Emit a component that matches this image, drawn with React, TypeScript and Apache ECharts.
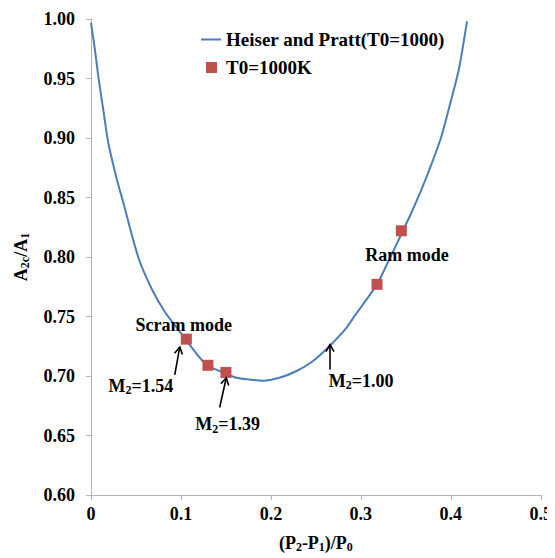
import React, { useEffect, useRef } from 'react';
import * as echarts from 'echarts';

// Heiser and Pratt curve
const curveX = [0, 0.0044, 0.0081, 0.0136, 0.0192, 0.0285, 0.0358, 0.0525, 0.067, 0.082, 0.097, 0.106, 0.128, 0.1486, 0.1615, 0.176, 0.191, 0.2095, 0.228, 0.2465, 0.265, 0.2835, 0.2945, 0.306, 0.318, 0.331, 0.3455, 0.356, 0.367, 0.378, 0.389, 0.398, 0.409, 0.418];
const curveY = [0.997, 0.974, 0.952, 0.924, 0.896, 0.866, 0.846, 0.8, 0.774, 0.754, 0.739, 0.73, 0.7096, 0.7025, 0.6985, 0.697, 0.696, 0.6985, 0.704, 0.7124, 0.725, 0.74, 0.752, 0.764, 0.777, 0.797, 0.82, 0.837, 0.856, 0.877, 0.9, 0.925, 0.958, 0.998];

// T0=1000K points
const pointX = [0.106, 0.13, 0.15, 0.318, 0.345];
const pointY = [0.731, 0.709, 0.703, 0.777, 0.822];

const xTickLabels = ['0', '0.1', '0.2', '0.3', '0.4', '0.5'];
const yTickLabels = ['0.60', '0.65', '0.70', '0.75', '0.80', '0.85', '0.90', '0.95', '1.00'];

const seriesNames = ['Heiser and Pratt(T0=1000)', 'T0=1000K'];

// annotations (data coordinates)
const noteTexts = ['Scram mode', 'M{s|2}=1.54', 'M{s|2}=1.39', 'M{s|2}=1.00', 'Ram mode'];
const noteAt = [[0.103, 0.7427], [0.0554, 0.6918], [0.152, 0.6593], [0.3004, 0.696], [0.3514, 0.802]];
const arrowFrom = [[0.0931, 0.701], [0.143, 0.6735], [0.2657, 0.7054]];
const arrowTo = [[0.0987, 0.7244], [0.1504, 0.6985], [0.2657, 0.7263]];

const FONT = "'Liberation Serif', 'Times New Roman', serif";
const sub = { fontSize: 12, fontWeight: 'bold' as const, fontFamily: FONT, padding: [9, 0, 0, 0] };

// legend icons in a 20x11 box (tiny corner specks fix the bounding box)
const CORNERS = 'M0,0 L0.01,0 L0,0.01 Z M20,11 L19.99,11 L20,10.99 Z';
const LINE_ICON = 'path://' + CORNERS + ' M0,4.5 L20,4.5 L20,6.5 L0,6.5 Z';
const SQUARE_ICON = 'path://' + CORNERS + ' M5,0 L16,0 L16,11 L5,11 Z';

export default function App() {
  const ref = useRef<HTMLDivElement>(null);
  useEffect(() => {
    if (!ref.current) return;
    const chart = echarts.init(ref.current, undefined, { renderer: 'svg' });
    const option: any = {
      animation: false,
      backgroundColor: '#fff',
      grid: { left: 91, right: 13, top: 19, bottom: 60, containLabel: false },
      legend: {
        left: 196,
        top: 25,
        orient: 'vertical',
        itemWidth: 20,
        itemHeight: 11,
        itemGap: 9,
        textStyle: { fontFamily: FONT, fontWeight: 'bold', fontSize: 19, color: '#000' },
        data: [
          { name: seriesNames[0], icon: LINE_ICON, itemStyle: { color: '#4a7ebb' } },
          { name: seriesNames[1], icon: SQUARE_ICON, itemStyle: { color: '#c0504d' } },
        ],
      },
      xAxis: {
        type: 'value',
        min: 0,
        max: 0.5,
        interval: 0.1,
        name: '(P{s|2}-P{s|1})/P{s|0}',
        nameLocation: 'middle',
        nameGap: 37,
        nameTextStyle: { fontFamily: FONT, fontWeight: 'bold', fontSize: 18, color: '#000', rich: { s: sub } },
        axisLine: { lineStyle: { color: '#b3b3b3', width: 1 } },
        axisTick: { show: true, length: 5, lineStyle: { color: '#b3b3b3' } },
        splitLine: { show: false },
        axisLabel: {
          margin: 10,
          fontFamily: FONT, fontWeight: 'bold', fontSize: 18, color: '#000',
          formatter: (v: number) => xTickLabels[Math.round(v * 10)] ?? '',
        },
      },
      yAxis: {
        type: 'value',
        min: 0.6,
        max: 1.0,
        interval: 0.05,
        name: 'A{s|2c}/A{s|1}',
        nameLocation: 'middle',
        nameGap: 60,
        nameRotate: 90,
        nameTextStyle: { fontFamily: FONT, fontWeight: 'bold', fontSize: 18, color: '#000', rich: { s: sub } },
        axisLine: { show: true, lineStyle: { color: '#b3b3b3', width: 1 } },
        axisTick: { show: true, length: 5, lineStyle: { color: '#b3b3b3' } },
        splitLine: { show: false },
        axisLabel: {
          margin: 16,
          fontFamily: FONT, fontWeight: 'bold', fontSize: 18, color: '#000',
          formatter: (v: number) => yTickLabels[Math.round((v - 0.6) / 0.05)] ?? '',
        },
      },
      series: [
        {
          name: seriesNames[0],
          type: 'line',
          data: curveX.map((x, i) => [x, curveY[i]]),
          symbol: 'none',
          showSymbol: false,
          smooth: 0.25,
          lineStyle: { color: '#4a7ebb', width: 2 },
          itemStyle: { color: '#4a7ebb' },
          z: 2,
        },
        {
          name: seriesNames[1],
          type: 'scatter',
          data: pointX.map((x, i) => [x, pointY[i]]),
          symbol: 'rect',
          symbolSize: 11,
          itemStyle: { color: '#c0504d', opacity: 1 },
          z: 3,
        },
      ],
    };
    chart.setOption(option);

    const graphic: any[] = [];
    noteTexts.forEach((t, i) => {
      const [px, py] = chart.convertToPixel({ gridIndex: 0 }, noteAt[i]) as number[];
      graphic.push({
        type: 'text',
        x: px,
        y: py,
        z: 10,
        style: {
          text: t,
          fill: '#000',
          fontFamily: FONT,
          fontWeight: 'bold',
          fontSize: 18,
          align: 'center',
          verticalAlign: 'middle',
          textAlign: 'center',
          textVerticalAlign: 'middle',
          rich: { s: sub },
        },
      });
    });
    arrowFrom.forEach((f, i) => {
      const [x1, y1] = chart.convertToPixel({ gridIndex: 0 }, f) as number[];
      const [x2, y2] = chart.convertToPixel({ gridIndex: 0 }, arrowTo[i]) as number[];
      const dx = x2 - x1, dy = y2 - y1;
      const len = Math.hypot(dx, dy);
      const ux = dx / len, uy = dy / len;
      const hl = 7, hw = 4;
      const bx = x2 - ux * hl, by = y2 - uy * hl;
      graphic.push({
        type: 'line',
        z: 10,
        shape: { x1, y1, x2, y2 },
        style: { stroke: '#000', lineWidth: 1.6 },
      });
      graphic.push({
        type: 'polyline',
        z: 10,
        shape: { points: [[bx - uy * hw, by + ux * hw], [x2, y2], [bx + uy * hw, by - ux * hw]] },
        style: { stroke: '#000', lineWidth: 1.6, fill: null },
      });
    });
    chart.setOption({ graphic });

    return () => chart.dispose();
  }, []);
  return <div ref={ref} style={{ width: 555, height: 558, marginLeft: -8, marginTop: -8 }} />;
}
